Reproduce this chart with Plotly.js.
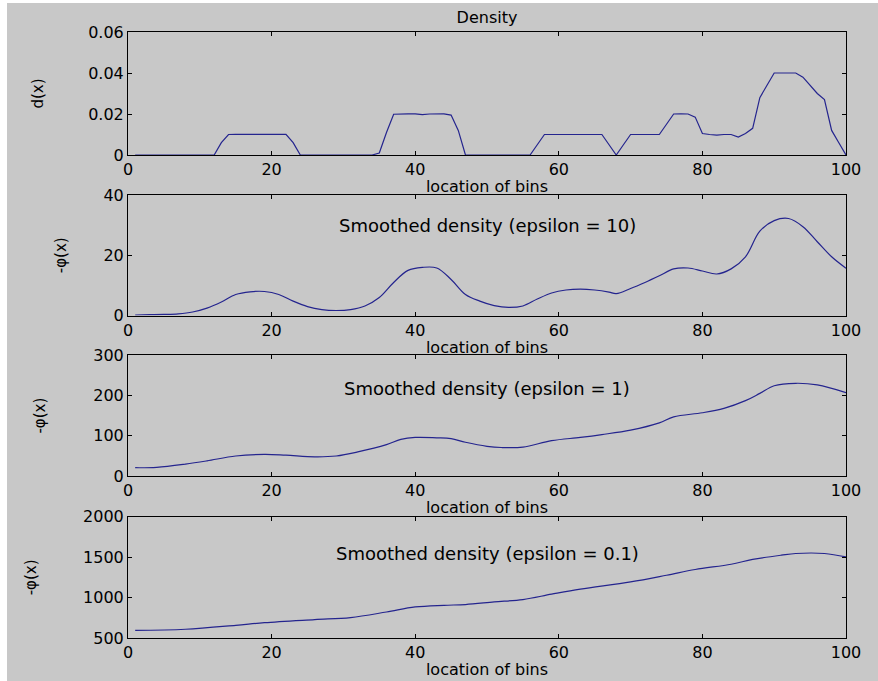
<!DOCTYPE html>
<html><head><meta charset="utf-8">
<script src="https://cdn.plot.ly/plotly-3.0.1.min.js"></script>
<style>html,body{margin:0;padding:0;background:#fff}#chart{width:878px;height:681px}</style>
</head><body><div id="chart"></div>
<script>
// bin locations 1..100 (category axis)
const bins = Array.from({length: 100}, (_, i) => i + 1);

// Density d(x) per bin
const density = [
  0,0,0,0,0,0,0,0,0,0,0,0,
  0.006,0.01,0.0101,0.0101,0.0101,0.01,0.0098,0.01,0.0101,0.0101,0.006,
  0,
  0,0,0,0,0,0,0,0,0,0,
  0.001,0.011,0.0199,0.0201,0.0201,0.0201,0.0197,0.02,0.0201,0.0201,0.0195,0.012,
  0,
  0,0,0,0,0,0,0,0,0,
  0.005,0.01,0.01,0.01,0.01,0.01,0.01,0.01,0.01,0.01,0.005,0,0.005,0.01,0.01,0.01,0.01,0.01,
  0.015,0.02,0.0201,0.02,0.0185,0.0105,0.01,0.0097,0.01,0.01,0.0088,0.0105,0.013,0.028,0.034,
  0.04,0.04,0.04,0.04,0.038,0.034,0.03,0.027,0.012,0.006,0
];

// Smoothed density, epsilon = 10
const eps10X = [1,3,5,7,9,11,13,15,17,19,21,23,25,27,29,31,33,35,37,39,41,43,45,47,49,51,53,55,57,59,61,63,65,67,68,70,72,74,76,78,80,82,84,86,88,90,92,94,96,98,100];
const eps10Y = [0.2,0.3,0.4,0.6,1.2,2.5,4.5,7.0,7.9,8.0,7.0,4.8,3.0,2.0,1.7,2.0,3.2,6.0,11.0,15.0,16.0,15.8,12.0,7.0,4.8,3.3,2.7,3.2,5.5,7.5,8.5,8.8,8.5,7.8,7.3,9.0,11.0,13.2,15.5,15.8,14.8,13.8,15.5,19.5,28.0,31.5,32.2,29.5,24.5,19.5,15.7];

// Smoothed density, epsilon = 1
const eps1X = [1,4,8,11,15,19,22,26,29,32,36,38,40,43,45,47,50,52,55,59,63,66,70,74,76,80,83,86,88,90,93,96,100];
const eps1Y = [21,22,30,38,50,54,52,48,50,60,78,91,96,95,93,84,74,71,72,88,96,103,114,132,147,157,168,187,205,224,230,226,207];

// Smoothed density, epsilon = 0.1
const eps01X = [1,8,15,19,26,31,36,40,44,47,51,55,59,63,70,75,79,84,87,91,93,97,100];
const eps01Y = [595,608,657,690,728,753,822,884,905,914,946,976,1042,1104,1194,1277,1348,1413,1472,1525,1546,1546,1504];

const annText = ['Smoothed density (epsilon = 10)', 'Smoothed density (epsilon = 1)', 'Smoothed density (epsilon = 0.1)'];
const annY = [30, 217, 1550];

const FONT = 'DejaVu Sans, Verdana, sans-serif';
const lineStyle = {color: '#24248e', width: 1.2};

const traces = [
  {x: bins, y: density, xaxis: 'x', yaxis: 'y', mode: 'lines', line: lineStyle},
  {x: eps10X, y: eps10Y, xaxis: 'x2', yaxis: 'y2', mode: 'lines', line: Object.assign({shape: 'spline', smoothing: 1}, lineStyle)},
  {x: eps1X, y: eps1Y, xaxis: 'x3', yaxis: 'y3', mode: 'lines', line: Object.assign({shape: 'spline', smoothing: 1}, lineStyle)},
  {x: eps01X, y: eps01Y, xaxis: 'x4', yaxis: 'y4', mode: 'lines', line: Object.assign({shape: 'spline', smoothing: 1}, lineStyle)}
];

function xax(anchor) {
  return {
    anchor: anchor, range: [0, 100], tick0: 0, dtick: 20,
    ticks: 'inside', ticklen: 4, tickcolor: '#000',
    showline: true, linecolor: '#000', linewidth: 1, mirror: 'ticks',
    showgrid: false, zeroline: false,
    tickfont: {family: FONT, size: 16, color: '#000'},
    title: {text: 'location of bins', font: {family: FONT, size: 16, color: '#000'}, standoff: 2}
  };
}
function yax(anchor, domain, range, dtick, title, standoff) {
  return {
    anchor: anchor, domain: domain, range: range, dtick: dtick, tick0: 0,
    ticks: 'inside', ticklen: 4, tickcolor: '#000',
    showline: true, linecolor: '#000', linewidth: 1, mirror: 'ticks',
    showgrid: false, zeroline: false,
    tickfont: {family: FONT, size: 16, color: '#000'},
    title: {text: title, font: {family: FONT, size: 15, color: '#000'}, standoff: standoff}
  };
}

const layout = {
  width: 878, height: 681,
  margin: {l: 128, r: 32, t: 32, b: 43, pad: 0},
  paper_bgcolor: '#ffffff', plot_bgcolor: '#ffffff',
  showlegend: false,
  title: {text: 'Density', font: {family: FONT, size: 16, color: '#000'}, x: 0.5, xref: 'paper', y: 1 - 17/681, yref: 'container', yanchor: 'middle'},
  xaxis: xax('y'), xaxis2: xax('y2'), xaxis3: xax('y3'), xaxis4: xax('y4'),
  yaxis: yax('x', [0.797, 1.0], [0, 0.06], 0.02, 'd(x)', 40),
  yaxis2: yax('x2', [0.532, 0.731], [0, 40], 20, '-φ(x)', 33),
  yaxis3: yax('x3', [0.267, 0.467], [0, 300], 100, '-φ(x)', 43),
  yaxis4: yax('x4', [0.0, 0.200], [500, 2000], 500, '-φ(x)', 42),
  shapes: [{type: 'rect', xref: 'paper', yref: 'paper', x0: -0.1685, x1: 1.05, y0: -0.08, y1: 1.0479,
            fillcolor: '#c8c8c8', line: {width: 0}, layer: 'below'}],
  annotations: [
    {xref: 'x2', yref: 'y2', x: 50, y: annY[0], text: annText[0], showarrow: false, font: {family: FONT, size: 18, color: '#000'}},
    {xref: 'x3', yref: 'y3', x: 50, y: annY[1], text: annText[1], showarrow: false, font: {family: FONT, size: 18, color: '#000'}},
    {xref: 'x4', yref: 'y4', x: 50, y: annY[2], text: annText[2], showarrow: false, font: {family: FONT, size: 18, color: '#000'}}
  ]
};

Plotly.newPlot('chart', traces, layout, {displayModeBar: false, staticPlot: true});
</script>
</body></html>
